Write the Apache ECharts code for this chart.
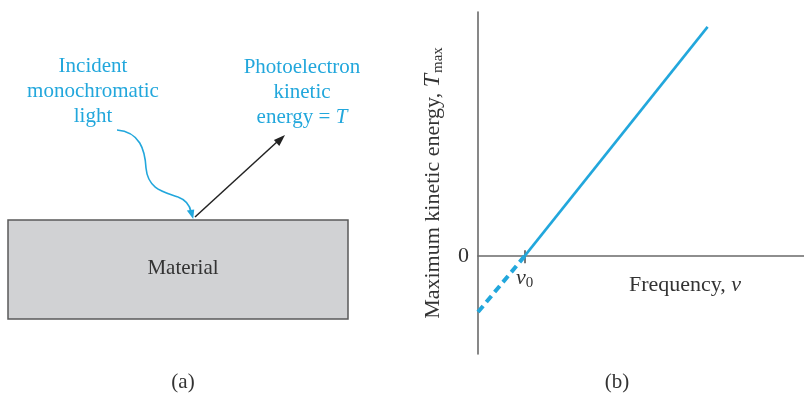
<!DOCTYPE html>
<html>
<head>
<meta charset="utf-8">
<script src="https://cdn.jsdelivr.net/npm/echarts@6/dist/echarts.min.js"></script>
<style>html,body{margin:0;padding:0;background:#fff}#c{width:804px;height:396px}</style>
</head>
<body>
<div id="c"></div>
<script>
// Data (arbitrary units; threshold frequency nu0 = 1)
const freqSolid = [1, 4.93];
const tmaxSolid = [0, 4.92];
const freqDashed = [0, 1];
const tmaxDashed = [-1.2, 0];
const xTickValues = [1];
const xTickLabels = ['ν0'];
const yTickValues = [0];
const yTickLabels = ['0'];

const FONT = '"Liberation Serif", "DejaVu Serif", serif';
const FS = 21;   // panel (a) text
const AFS = 22;  // axis text
const BLUE = '#22a7dc';
const AXIS = '#6a6a6a';

const Y_MIN = -2.1, Y_MAX = 5.24;
const GRID = {left: 478, right: 0, top: 12, bottom: 42};
const gridH = 396 - GRID.top - GRID.bottom;
// place the frequency axis at Tmax = 0 (layout offset from grid bottom)
const zeroOffset = -gridH * (0 - Y_MIN) / (Y_MAX - Y_MIN);

const chart = echarts.init(document.getElementById('c'), null, {renderer: 'canvas'});

const pairs = (xs, ys) => xs.map((x, i) => [x, ys[i]]);

const option = {
  animation: false,
  backgroundColor: '#fff',
  grid: Object.assign({containLabel: false, outerBoundsMode: 'none'}, GRID),
  xAxis: [{
    type: 'value', min: 0, max: 7, position: 'bottom', offset: zeroOffset,
    axisLine: {onZero: false, lineStyle: {color: AXIS, width: 1.6}},
    splitLine: {show: false},
    axisTick: {customValues: xTickValues, length: 7, lineStyle: {color: AXIS, width: 1.8}},
    axisLabel: {
      customValues: xTickValues, margin: 10,
      formatter: v => { const i = xTickValues.indexOf(v); if (i < 0) return ''; const t = xTickLabels[i]; return '{i|' + t[0] + '}{s|' + t.slice(1) + '}'; },
      rich: {
        i: {fontFamily: FONT, fontStyle: 'italic', fontSize: AFS, color: '#333'},
        s: {fontFamily: FONT, fontSize: 15, color: '#333', padding: [9, 0, 0, 0]}
      }
    },
    name: 'Frequency, {i|ν}',
    nameLocation: 'middle', nameGap: 18, nameMoveOverlap: false,
    nameTextStyle: {fontFamily: FONT, fontSize: AFS, color: '#333', padding: [0, 0, 0, 88],
      rich: {i: {fontFamily: FONT, fontStyle: 'italic', fontSize: AFS, color: '#333'}}}
  }, {
    // companion axis: only the opposite half of the threshold tick
    type: 'value', min: 0, max: 7, position: 'bottom', offset: zeroOffset,
    axisLine: {show: false}, splitLine: {show: false}, axisLabel: {show: false},
    axisTick: {customValues: xTickValues, inside: true, length: 6, lineStyle: {color: AXIS, width: 1.8}}
  }],
  yAxis: {
    type: 'value', min: Y_MIN, max: Y_MAX,
    axisLine: {onZero: false, lineStyle: {color: AXIS, width: 1.6}},
    splitLine: {show: false},
    axisTick: {show: false},
    axisLabel: {
      customValues: yTickValues, margin: 9,
      formatter: v => { const i = yTickValues.indexOf(v); return i < 0 ? '' : yTickLabels[i]; },
      fontFamily: FONT, fontSize: AFS, color: '#333'
    },
    name: 'Maximum kinetic energy, {i|T}{s|max}',
    nameLocation: 'middle', nameGap: 32, nameRotate: 90, nameMoveOverlap: false,
    nameTextStyle: {fontFamily: FONT, fontSize: AFS, color: '#333',
      rich: {
        i: {fontFamily: FONT, fontStyle: 'italic', fontSize: 24, color: '#333'},
        s: {fontFamily: FONT, fontSize: 15, color: '#333', padding: [11, 0, 0, 1]}
      }}
  },
  series: [
    {type: 'line', data: pairs(freqSolid, tmaxSolid), symbol: 'none', silent: true,
      lineStyle: {color: BLUE, width: 2.6}},
    {type: 'line', data: pairs(freqDashed, tmaxDashed), symbol: 'none', silent: true,
      lineStyle: {color: BLUE, width: 4, type: [8, 5]}}
  ],
  graphic: [
    // Panel (a): material block
    {type: 'rect', shape: {x: 8, y: 220, width: 340, height: 99},
      style: {fill: '#d1d2d4', stroke: '#5a5a5a', lineWidth: 1.5}},
    {type: 'text', x: 183, y: 268, style: {text: 'Material', font: FS + 'px ' + FONT, fill: '#333', align: 'center', verticalAlign: 'middle'}},
    // Incident light label
    {type: 'text', x: 93, y: 91, style: {text: 'Incident\nmonochromatic\nlight', font: FS + 'px ' + FONT, fill: BLUE, align: 'center', verticalAlign: 'middle', lineHeight: 25}},
    // Photoelectron label
    {type: 'text', x: 302, y: 92, style: {
      text: 'Photoelectron\nkinetic\nenergy = {i|T}', font: FS + 'px ' + FONT, fill: BLUE, align: 'center', verticalAlign: 'middle', lineHeight: 25,
      rich: {i: {fontFamily: FONT, fontStyle: 'italic', fontSize: FS, fill: BLUE, lineHeight: 25}}}},
    // Wavy incident light path
    {type: 'bezierCurve', shape: {x1: 117, y1: 130, cpx1: 140, cpy1: 132, cpx2: 145, cpy2: 150, x2: 146, y2: 168},
      style: {fill: null, stroke: BLUE, lineWidth: 1.6}},
    {type: 'bezierCurve', shape: {x1: 146, y1: 168, cpx1: 148, cpy1: 190, cpx2: 165, cpy2: 192, x2: 178, y2: 197},
      style: {fill: null, stroke: BLUE, lineWidth: 1.6}},
    {type: 'bezierCurve', shape: {x1: 178, y1: 197, cpx1: 186, cpy1: 200, cpx2: 190, cpy2: 206, x2: 191, y2: 212},
      style: {fill: null, stroke: BLUE, lineWidth: 1.6}},
    {type: 'polygon', shape: {points: [[193.2, 219], [186.8, 210.6], [194.2, 209.6]]}, style: {fill: BLUE}},
    // Photoelectron arrow
    {type: 'line', shape: {x1: 195, y1: 217, x2: 278, y2: 141}, style: {stroke: '#222', lineWidth: 1.5}},
    {type: 'polygon', shape: {points: [[285, 135], [279.3, 146.0], [273.9, 140.0]]}, style: {fill: '#222'}},
    // Panel captions
    {type: 'text', x: 183, y: 382, style: {text: '(a)', font: FS + 'px ' + FONT, fill: '#333', align: 'center', verticalAlign: 'middle'}},
    {type: 'text', x: 617, y: 382, style: {text: '(b)', font: FS + 'px ' + FONT, fill: '#333', align: 'center', verticalAlign: 'middle'}}
  ]
};
chart.setOption(option);
</script>
</body>
</html>
